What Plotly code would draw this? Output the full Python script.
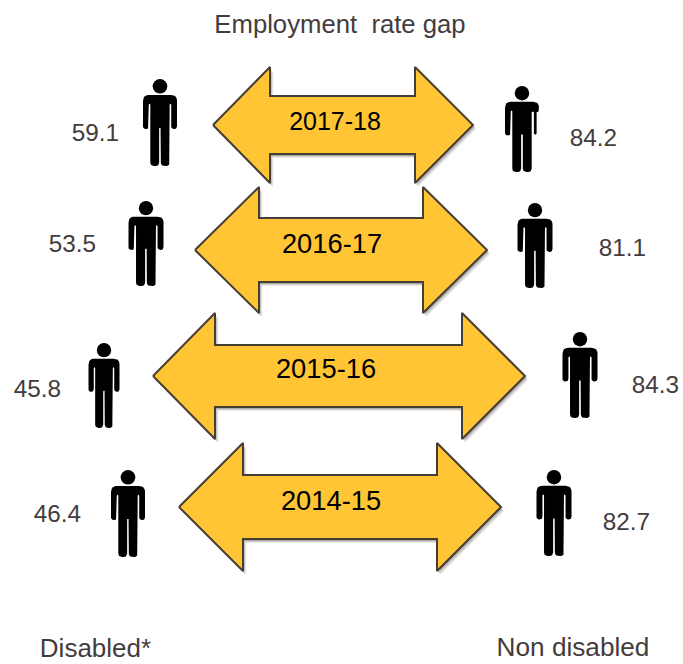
import math
import plotly.graph_objects as go

# Employment rates by year
years = ["2017-18", "2016-17", "2015-16", "2014-15"]
disabled_rate = [59.1, 53.5, 45.8, 46.4]
non_disabled_rate = [84.2, 81.1, 84.3, 82.7]

# Diagram placement, in page pixels, one row per year
arrow_rows = [
    # left tip, left base, right base, right tip, mid y, head half height, shaft half height
    (213, 270, 415, 473, 125, 58, 29),
    (195, 259, 423, 487, 250, 63, 32),
    (153, 215, 462, 525, 376, 63, 31),
    (179, 243, 437, 501, 507, 64, 32),
]
year_label_xy = [(335, 123.5), (332, 246), (326, 371.5), (331, 503)]
year_label_size = [25, 27.3, 27.3, 27.3]
left_label_xy = [(95.5, 135), (72.5, 245.5), (37.5, 390.5), (57.5, 515.5)]
right_label_xy = [(593.5, 140), (622.5, 249.5), (655.5, 386.5), (626.5, 523.5)]
# centre x, head top, feet, width
left_people = [(160, 79, 166, 34), (146, 201, 286, 35), (104, 343, 428, 31), (128, 470, 557, 34)]
right_people = [(522, 86, 172, 34), (535, 203, 288, 35), (580, 332, 418, 35), (554, 470, 556, 35)]

GOLD = "#FFC535"
EDGE = "#463D35"
TEXT = "#443C3C"
FONT = "Liberation Sans, Arial, sans-serif"


def rounded(points):
    """Closed polygon of (x, y, radius) corners, each replaced by a quadratic curve."""
    out = []
    n = len(points)
    for i, (x, y, radius) in enumerate(points):
        px, py, _ = points[i - 1]
        nx, ny, _ = points[(i + 1) % n]
        d1 = math.hypot(px - x, py - y)
        d2 = math.hypot(nx - x, ny - y)
        r = min(radius, d1 * 0.6, d2 * 0.6)
        ax, ay = x + (px - x) * r / d1, y + (py - y) * r / d1
        bx, by = x + (nx - x) * r / d2, y + (ny - y) * r / d2
        for k in range(9):
            t = k / 8
            out.append((
                (1 - t) ** 2 * ax + 2 * t * (1 - t) * x + t ** 2 * bx,
                (1 - t) ** 2 * ay + 2 * t * (1 - t) * y + t ** 2 * by,
            ))
    out.append(out[0])
    return out


def polygon(pts, fill, line=None, width=0):
    return go.Scatter(
        x=[p[0] for p in pts], y=[p[1] for p in pts],
        mode="lines", fill="toself", fillcolor=fill,
        line=dict(color=line or fill, width=width) if width else dict(width=0),
        hoverinfo="skip", showlegend=False,
    )


def arrow_outline(lt, lb, rb, rt, my, hh, sh, dx=0, dy=0):
    pts = [
        (lt, my), (lb, my - hh), (lb, my - sh), (rb, my - sh), (rb, my - hh),
        (rt, my), (rb, my + hh), (rb, my + sh), (lb, my + sh), (lb, my + hh), (lt, my),
    ]
    return [(x + dx, y + dy) for x, y in pts]


def person_body(cx, top, feet, width, one_thin_arm=False):
    h = feet - top
    hw = width / 2
    shoulder = 0.184
    arm_end = 0.575
    pit = 0.285
    crotch = 0.563
    if one_thin_arm:
        right_side = [
            (1.0, shoulder, 6), (1.0, pit + 0.015, 1.5), (0.86, pit + 0.015, 0.5), (0.86, 0.565, 1),
            (0.70, 0.565, 1), (0.70, pit + 0.015, 0.5), (0.57, pit + 0.015, 0.5),
            (0.57, 1.0, 3.6), (0.05, 1.0, 3.6), (0.05, crotch, 0.3),
        ]
    else:
        right_side = [
            (1.0, shoulder, 6), (1.0, arm_end, 2.8), (0.66, arm_end, 2.8), (0.66, pit, 1.4),
            (0.57, pit, 0.8), (0.57, 1.0, 3.6), (0.05, 1.0, 3.6), (0.05, crotch, 0.3),
        ]
    left_side = [
        (-0.05, crotch, 0.3), (-0.05, 1.0, 3.6), (-0.57, 1.0, 3.6), (-0.57, pit, 0.8),
        (-0.66, pit, 1.4), (-0.66, arm_end, 2.8), (-1.0, arm_end, 2.8), (-1.0, shoulder, 6),
    ]
    return rounded([(cx + u * hw, top + v * h, r) for u, v, r in right_side + left_side])


fig = go.Figure()

# Arrows, each with a soft offset shadow underneath
for row in arrow_rows:
    for dx, dy, alpha in [(3.2, 4.0, 0.10), (2.2, 3.0, 0.16), (1.2, 2.0, 0.22)]:
        fig.add_trace(polygon(arrow_outline(*row, dx=dx, dy=dy), f"rgba(60,50,40,{alpha})"))
    fig.add_trace(polygon(arrow_outline(*row), GOLD, EDGE, 2))

# Figures on both sides of every arrow
for side, people in (("left", left_people), ("right", right_people)):
    for i, (cx, top, feet, width) in enumerate(people):
        thin = side == "right" and i == 0
        fig.add_trace(polygon(person_body(cx, top, feet, width, thin), "#000000"))
        head = (feet - top) * 0.084
        fig.add_trace(go.Scatter(
            x=[cx], y=[top + head], mode="markers",
            marker=dict(color="#000000", size=head * 2, line=dict(width=0)),
            hoverinfo="skip", showlegend=False,
        ))


def labels(xy, texts, size, color):
    return go.Scatter(
        x=[p[0] for p in xy], y=[p[1] for p in xy], text=texts,
        mode="text", textposition="middle center",
        textfont=dict(family=FONT, size=size, color=color),
        hoverinfo="skip", showlegend=False,
    )


fig.add_trace(labels(year_label_xy, years, year_label_size, "#000000"))
fig.add_trace(labels(left_label_xy, [f"{v:.1f}" for v in disabled_rate], 24.3, TEXT))
fig.add_trace(labels(right_label_xy, [f"{v:.1f}" for v in non_disabled_rate], 24.3, TEXT))
fig.add_trace(labels(
    [(340, 26.5), (95.5, 650), (573, 649.5)],
    ["Employment\u00a0 rate gap", "Disabled*", "Non disabled"],
    [25.7, 26, 26.2], TEXT,
))

fig.update_layout(
    width=683, height=664, margin=dict(l=0, r=0, t=0, b=0),
    paper_bgcolor="#FFFFFF", plot_bgcolor="#FFFFFF", showlegend=False,
    xaxis=dict(range=[0, 683], visible=False, fixedrange=True),
    yaxis=dict(range=[664, 0], visible=False, fixedrange=True),
)

fig.write_html("out.html", config=dict(displayModeBar=False))
